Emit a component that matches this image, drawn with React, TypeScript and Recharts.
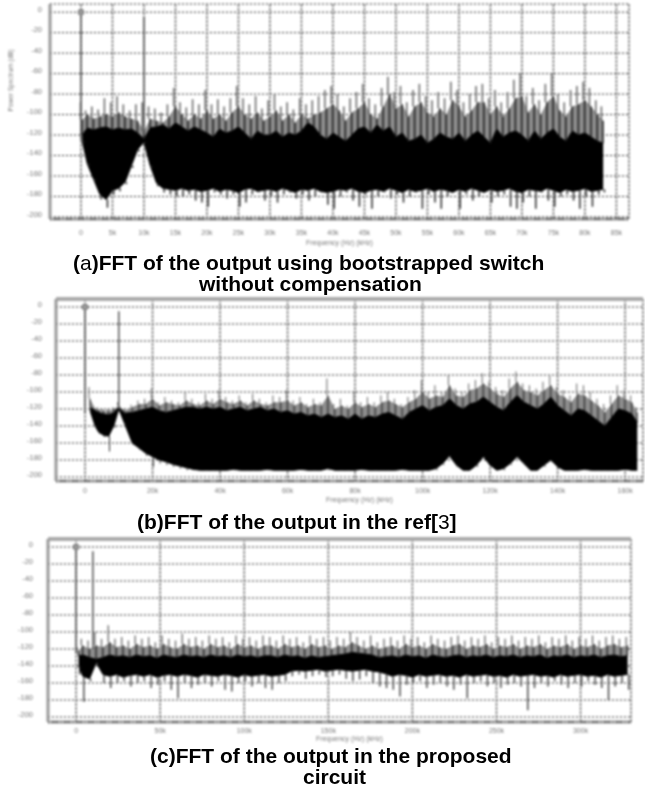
import { Area, Bar, CartesianGrid, ComposedChart, ReferenceDot, ReferenceLine, XAxis, YAxis } from 'recharts';

const yTicks = [0, -20, -40, -60, -80, -100, -120, -140, -160, -180, -200];

// (a) bootstrapped switch, no compensation
const aTicks = [0, 5, 10, 15, 20, 25, 30, 35, 40, 45, 50, 55, 60, 65, 70, 75, 80, 85];
const aTickLabels = ['0', '5k', '10k', '15k', '20k', '25k', '30k', '35k', '40k', '45k', '50k', '55k', '60k', '65k', '70k', '75k', '80k', '85k'];
const aFreq = [0.2, 1, 2, 3, 4, 5, 6, 7, 8, 9, 10, 11, 12, 13, 14, 15, 16, 17, 18, 19,
  20, 21, 22, 23, 24, 25, 26, 27, 28, 29, 30, 31, 32, 33, 34, 35, 36, 37, 38, 39,
  40, 41, 42, 43, 44, 45, 46, 47, 48, 49, 50, 51, 52, 53, 54, 55, 56, 57, 58, 59,
  60, 61, 62, 63, 64, 65, 66, 67, 68, 69, 70, 71, 72, 73, 74, 75, 76, 77, 78, 79,
  80, 81, 82, 82.9];
const aPeak = [-88, -96, -92, -95, -84, -88, -82, -90, -96, -90, -88, -92, -94, -98, -90, -74, -88, -93, -85, -90,
  -76, -90, -85, -92, -84, -72, -84, -90, -82, -94, -86, -80, -92, -88, -95, -84, -90, -86, -82, -76,
  -72, -80, -92, -84, -78, -70, -84, -90, -74, -63, -78, -72, -88, -76, -70, -82, -86, -78, -84, -68,
  -76, -88, -80, -72, -70, -84, -76, -88, -78, -66, -60, -82, -74, -86, -70, -60, -80, -88, -76, -72,
  -68, -74, -86, -92];
const aShade = [-105, -100, -104, -102, -100, -102, -98, -102, -104, -106, -116, -104, -106, -108, -102, -92, -100, -106, -100, -104,
  -96, -104, -100, -106, -98, -92, -100, -104, -98, -106, -102, -96, -106, -100, -108, -100, -104, -100, -98, -94,
  -90, -96, -106, -98, -94, -88, -100, -104, -92, -80, -94, -90, -102, -92, -88, -98, -102, -94, -100, -86,
  -92, -102, -96, -88, -88, -100, -92, -102, -94, -84, -82, -98, -90, -100, -88, -82, -96, -102, -92, -90,
  -86, -92, -100, -106];
const aTop = [-120, -113, -115, -113, -112, -115, -113, -115, -114, -118, -124, -113, -112, -110, -114, -108, -112, -116, -112, -115,
  -118, -122, -114, -118, -116, -112, -118, -124, -116, -120, -120, -116, -122, -118, -120, -116, -108, -112, -120, -124,
  -118, -122, -126, -120, -114, -112, -118, -110, -116, -112, -122, -118, -126, -124, -120, -128, -124, -118, -122, -124,
  -118, -126, -120, -116, -122, -128, -114, -122, -118, -116, -120, -126, -116, -124, -118, -114, -122, -126, -116, -120,
  -118, -122, -126, -128];
const aBottom = [-126, -148, -163, -178, -183, -174, -172, -166, -150, -134, -127, -150, -167, -172, -173, -174, -172, -174, -173, -175,
  -174, -172, -175, -173, -174, -176, -173, -172, -175, -174, -173, -175, -172, -174, -176, -173, -174, -172, -175, -176,
  -175, -173, -174, -172, -175, -176, -174, -173, -175, -172, -174, -176, -173, -175, -174, -172, -175, -173, -174, -176,
  -173, -175, -172, -174, -176, -173, -175, -174, -172, -175, -176, -173, -174, -175, -172, -174, -176, -173, -175, -174,
  -172, -175, -174, -173];
const aDip = [-128, -150, -165, -183, -191, -178, -175, -168, -152, -136, -128, -152, -170, -176, -178, -180, -180, -178, -184, -186,
  -190, -176, -178, -182, -178, -190, -186, -178, -176, -184, -180, -186, -178, -176, -182, -178, -184, -180, -176, -188,
  -192, -180, -176, -184, -190, -178, -192, -180, -176, -182, -178, -186, -180, -176, -192, -178, -186, -192, -180, -176,
  -192, -178, -184, -180, -176, -186, -180, -178, -190, -192, -186, -180, -192, -176, -184, -190, -180, -178, -184, -192,
  -180, -190, -178, -176];

// (b) ref[3]
const bTicks = [0, 20, 40, 60, 80, 100, 120, 140, 160];
const bTickLabels = ['0', '20k', '40k', '60k', '80k', '100k', '120k', '140k', '160k'];
const bFreq = [1.5, 3, 4, 5.5, 7, 8.6, 10, 11.7, 14, 16, 18,
  20, 22, 24, 26, 28, 30, 32, 34, 36, 38, 40, 42, 44, 46, 48, 50, 52, 54, 56, 58,
  60, 62, 64, 66, 68, 70, 72, 74, 76, 78, 80, 82, 84, 86, 88, 90, 92, 94, 96, 98,
  100, 102, 104, 106, 108, 110, 112, 114, 116, 118, 120, 122, 124, 126, 128, 130, 132, 134, 136, 138,
  140, 142, 144, 146, 148, 150, 152, 154, 156, 158, 160, 162, 163.6];
const bPeak = [-94, -118, -118, -120, -120, -118, -112, -120, -115, -110, -108,
  -96, -112, -106, -110, -112, -100, -108, -112, -102, -108, -98, -106, -110, -104, -112, -102, -108, -112, -104, -106,
  -98, -110, -106, -114, -108, -112, -84, -114, -108, -116, -100, -112, -106, -112, -104, -100, -108, -114, -106, -98,
  -86, -100, -92, -100, -80, -96, -100, -90, -86, -78, -88, -94, -98, -84, -76, -90, -92, -96, -88, -81,
  -94, -98, -104, -90, -92, -100, -108, -114, -104, -92, -98, -104, -118];
const bShade = [-108, -120, -121, -122, -122, -120, -116, -122, -118, -114, -114,
  -108, -116, -112, -114, -116, -110, -114, -116, -110, -114, -108, -112, -114, -110, -116, -110, -114, -116, -112, -112,
  -110, -116, -112, -118, -114, -116, -104, -120, -116, -120, -112, -118, -114, -118, -112, -110, -114, -118, -112, -108,
  -100, -108, -104, -106, -92, -104, -106, -98, -96, -90, -96, -102, -106, -96, -88, -98, -100, -104, -98, -92,
  -102, -106, -112, -102, -104, -110, -116, -124, -114, -104, -108, -112, -124];
const bTop = [-118, -122, -124, -126, -127, -124, -118, -125, -124, -122, -120,
  -118, -122, -124, -122, -120, -118, -118, -120, -118, -120, -118, -122, -120, -118, -122, -120, -118, -122, -120, -124,
  -122, -126, -124, -128, -126, -130, -126, -130, -128, -132, -126, -132, -128, -130, -126, -124, -128, -132, -124, -120,
  -116, -122, -118, -116, -108, -116, -120, -114, -112, -106, -112, -118, -122, -112, -104, -112, -116, -120, -114, -106,
  -116, -122, -128, -120, -122, -128, -134, -140, -130, -120, -122, -126, -136];
const bBottom = [-122, -140, -147, -151, -152, -139, -120, -137, -160, -166, -172,
  -176, -180, -182, -185, -187, -189, -191, -192, -192, -192, -192, -192, -191, -192, -192, -192, -192, -191, -192, -192,
  -192, -192, -191, -192, -192, -192, -190, -192, -192, -192, -192, -191, -192, -192, -192, -192, -192, -191, -192, -192,
  -192, -192, -190, -184, -175, -186, -192, -192, -186, -176, -186, -192, -190, -184, -176, -184, -192, -192, -186, -180,
  -188, -192, -192, -192, -191, -192, -192, -192, -192, -192, -191, -192, -192];
const bDip = [-124, -142, -149, -153, -170, -142, -122, -140, -162, -168, -175,
  -188, -184, -186, -188, -190, -192, -192, -192, -192, -192, -192, -192, -192, -192, -192, -192, -192, -192, -192, -192,
  -192, -192, -192, -192, -192, -192, -192, -192, -192, -192, -192, -192, -192, -192, -192, -192, -192, -192, -192, -192,
  -192, -192, -192, -186, -178, -188, -192, -192, -188, -178, -188, -192, -192, -186, -178, -186, -192, -192, -188, -182,
  -190, -192, -192, -192, -192, -192, -192, -192, -192, -192, -192, -192, -192];

// (c) proposed circuit
const cTicks = [0, 50, 100, 150, 200, 250, 300];
const cTickLabels = ['0', '50k', '100k', '150k', '200k', '250k', '300k'];
const cFreq = [1.5, 4, 8, 12, 16, 20, 24, 28, 32, 36, 40, 44, 48, 52, 56, 60, 64, 68, 72, 76,
  80, 84, 88, 92, 96, 100, 104, 108, 112, 116, 120, 124, 128, 132, 136, 140, 144, 148, 152, 156,
  160, 164, 168, 172, 176, 180, 184, 188, 192, 196, 200, 204, 208, 212, 216, 220, 224, 228, 232, 236,
  240, 244, 248, 252, 256, 260, 264, 268, 272, 276, 280, 284, 288, 292, 296, 300, 304, 308, 312, 316,
  320, 324, 328];
const cPeak = [-118, -108, -110, -100, -108, -92, -108, -106, -110, -104, -108, -106, -112, -104, -108, -110, -102, -108, -106, -110,
  -104, -108, -106, -112, -104, -108, -106, -110, -104, -106, -110, -104, -108, -106, -112, -104, -108, -106, -110, -106,
  -108, -100, -106, -110, -104, -112, -108, -106, -110, -104, -108, -106, -112, -104, -108, -110, -106, -104, -110, -106,
  -108, -104, -112, -106, -108, -104, -110, -106, -108, -104, -112, -106, -108, -104, -110, -106, -108, -104, -110, -106,
  -104, -108, -106];
const cShade = [-122, -116, -120, -116, -118, -112, -118, -116, -120, -114, -118, -116, -120, -114, -118, -120, -114, -118, -116, -120,
  -114, -118, -116, -120, -114, -118, -116, -120, -116, -116, -120, -114, -118, -116, -120, -114, -118, -116, -120, -116,
  -118, -112, -116, -120, -116, -120, -118, -116, -120, -114, -118, -116, -120, -114, -118, -120, -116, -114, -120, -116,
  -118, -114, -120, -116, -118, -114, -120, -116, -118, -114, -120, -116, -118, -114, -120, -116, -118, -114, -120, -116,
  -114, -118, -116];
const cTop = [-128, -127, -130, -132, -130, -127, -129, -128, -130, -127, -129, -128, -131, -127, -129, -130, -127, -129, -128, -130,
  -127, -129, -128, -130, -127, -129, -128, -130, -128, -128, -130, -127, -129, -128, -131, -128, -130, -129, -128, -127,
  -126, -124, -125, -126, -127, -130, -129, -128, -130, -127, -129, -128, -131, -127, -129, -130, -128, -127, -130, -128,
  -129, -127, -130, -128, -129, -127, -130, -128, -129, -127, -131, -128, -129, -127, -130, -128, -129, -127, -130, -128,
  -127, -129, -128];
const cBottom = [-140, -152, -155, -136, -150, -152, -150, -153, -151, -150, -152, -150, -153, -151, -150, -152, -150, -151, -153, -150,
  -151, -152, -150, -151, -153, -150, -152, -151, -150, -152, -151, -150, -146, -145, -146, -145, -144, -146, -145, -144,
  -145, -146, -145, -144, -146, -147, -149, -152, -150, -151, -153, -150, -152, -151, -150, -152, -151, -153, -150, -152,
  -151, -150, -152, -151, -153, -150, -152, -151, -150, -152, -151, -153, -150, -152, -151, -150, -152, -151, -153, -150,
  -152, -151, -150];
const cDip = [-150, -182, -158, -140, -160, -166, -160, -158, -164, -160, -158, -166, -162, -158, -168, -178, -160, -166, -162, -160,
  -164, -158, -168, -170, -160, -158, -164, -160, -166, -168, -160, -158, -152, -150, -155, -152, -150, -153, -152, -150,
  -155, -158, -156, -152, -160, -164, -166, -168, -176, -162, -160, -158, -166, -162, -160, -164, -168, -162, -178, -160,
  -158, -164, -160, -166, -162, -160, -164, -192, -166, -160, -164, -158, -162, -166, -160, -164, -158, -162, -166, -180,
  -164, -160, -168];

type PanelProps = {
  top: number; height: number; plotTop: number; plotBottom: number; plotLeft: number; plotRight: number;
  domainX: number[]; domainY: number[]; ticks: number[]; tickLabels: string[];
  freq: number[]; peak: number[]; shade: number[]; coreTop: number[]; bottom: number[]; dip: number[];
  labelShift: number; labelOffset: number; xMargin: number; yMargin: number; border?: boolean; yTitle?: string; barSize: number;
};

function FftPanel(p: PanelProps) {
  const rows = p.freq.map((f, i) => ({ f, peak: p.peak[i], shade: p.shade[i], top: p.coreTop[i], bottom: p.bottom[i], dip: p.dip[i] }));
  return (
    <div style={{ position: 'absolute', left: 0, top: p.top, filter: 'blur(0.8px)' }}>
      <ComposedChart width={645} height={p.height} data={rows}
        margin={{ top: p.plotTop, bottom: p.height - p.plotBottom - 30, left: 0, right: 645 - p.plotRight }}>
        <CartesianGrid vertical={false} stroke="#222" strokeDasharray="2 2" />
        <CartesianGrid horizontal={false} stroke="#777" strokeWidth={1.5} strokeDasharray="3 1" />
        <XAxis type="number" dataKey="f" domain={p.domainX} ticks={p.ticks} allowDataOverflow height={30}
          tickFormatter={(v: number) => p.tickLabels[p.ticks.indexOf(v)]}
          tick={{ fontSize: 7, fill: '#777', fontFamily: 'Liberation Sans' }} tickLine={false} tickSize={0} tickMargin={p.xMargin}
          axisLine={{ stroke: '#666', strokeWidth: 3, strokeDasharray: '2 1' }}
          label={{ value: 'Frequency (Hz) (kHz)', position: 'insideBottom', offset: p.labelOffset, dx: p.labelShift, fontSize: 7, fill: '#777', fontFamily: 'Liberation Sans' }} />
        <YAxis type="number" domain={p.domainY} ticks={yTicks} allowDataOverflow width={p.plotLeft} interval={0}
          tick={{ fontSize: 7.5, fill: '#777', dy: -3, fontFamily: 'Liberation Sans' }} tickLine={false} tickSize={0} tickMargin={p.yMargin}
          axisLine={{ stroke: '#999', strokeWidth: 3 }}
          label={p.yTitle ? { value: p.yTitle, angle: -90, position: 'insideLeft', offset: 11, fontSize: 6.5, fill: '#777', fontFamily: 'Liberation Sans' } : undefined} />
        {p.border && <ReferenceLine y={p.domainY[1]} stroke="#aaa" strokeWidth={4} />}
        <Area dataKey={(r: any) => [r.top, r.shade]} type="linear" stroke="none" fill="#8c8c8c" fillOpacity={1} dot={false} activeDot={false} isAnimationActive={false} />
        <Bar dataKey={(r: any) => [r.shade, r.peak]} barSize={p.barSize} fill="#666" isAnimationActive={false} />
        <Bar dataKey={(r: any) => [r.top, r.shade]} barSize={p.barSize} fill="#1c1c1c" isAnimationActive={false} />
        <Bar dataKey={(r: any) => [r.dip, r.bottom]} barSize={p.barSize} fill="#2a2a2a" isAnimationActive={false} />
        <Area dataKey={(r: any) => [r.bottom, r.top]} type="linear" stroke="#000" fill="#000" fillOpacity={1} dot={false} activeDot={false} isAnimationActive={false} />
        <ReferenceLine segment={[{ x: 0, y: 0 }, { x: 0, y: -125 }]} stroke="#555" strokeWidth={1.5} />
        <ReferenceLine segment={[{ x: 10, y: -5 }, { x: 10, y: -120 }]} stroke="#555" strokeWidth={1.5} />
        <ReferenceDot x={0} y={0} r={3} fill="#999" stroke="#777" />
      </ComposedChart>
    </div>
  );
}

const captionBase = { position: 'absolute', whiteSpace: 'nowrap', fontFamily: '"Liberation Sans", Arial, sans-serif', fontWeight: 700, fontSize: 21, lineHeight: '20px', color: '#000', filter: 'blur(0.5px)' } as const;

export default function App() {
  return (
    <div style={{ position: 'absolute', left: 0, top: 0, width: 645, height: 787, background: '#fff', overflow: 'hidden' }}>
      <FftPanel top={0} height={249} plotTop={4} plotBottom={219} plotLeft={50} plotRight={629} domainX={[-4.92, 87]} domainY={[-202, 8]}
        ticks={aTicks} tickLabels={aTickLabels} freq={aFreq} peak={aPeak} shade={aShade} coreTop={aTop} bottom={aBottom} dip={aDip}
        labelShift={0} labelOffset={4} xMargin={11} yMargin={8} yTitle="Power Spectrum (dB)" barSize={3} />
      <FftPanel top={290} height={221} plotTop={9} plotBottom={191} plotLeft={56} plotRight={643} domainX={[-8.6, 165.3]} domainY={[-204.7, 9.4]}
        ticks={bTicks} tickLabels={bTickLabels} freq={bFreq} peak={bPeak} shade={bShade} coreTop={bTop} bottom={bBottom} dip={bDip}
        labelShift={10} labelOffset={9} xMargin={7} yMargin={14} border barSize={3} />
      <FftPanel top={530} height={222} plotTop={9} plotBottom={192} plotLeft={48} plotRight={631} domainX={[-16.7, 330]} domainY={[-205.9, 9.4]}
        ticks={cTicks} tickLabels={cTickLabels} freq={cFreq} peak={cPeak} shade={cShade} coreTop={cTop} bottom={cBottom} dip={cDip}
        labelShift={10} labelOffset={11} xMargin={6} yMargin={15} border barSize={3} />
      <div style={{ ...captionBase, left: 73, top: 253 }}>(<span style={{ fontWeight: 400 }}>a</span>)FFT of the output using bootstrapped switch</div>
      <div style={{ ...captionBase, left: 199, top: 274 }}>without compensation</div>
      <div style={{ ...captionBase, left: 137, top: 512 }}>(b)FFT of the output in the ref[<span style={{ fontWeight: 400 }}>3</span>]</div>
      <div style={{ ...captionBase, left: 150, top: 746 }}>(c)FFT of the output in the proposed</div>
      <div style={{ ...captionBase, left: 303, top: 767 }}>circuit</div>
    </div>
  );
}
